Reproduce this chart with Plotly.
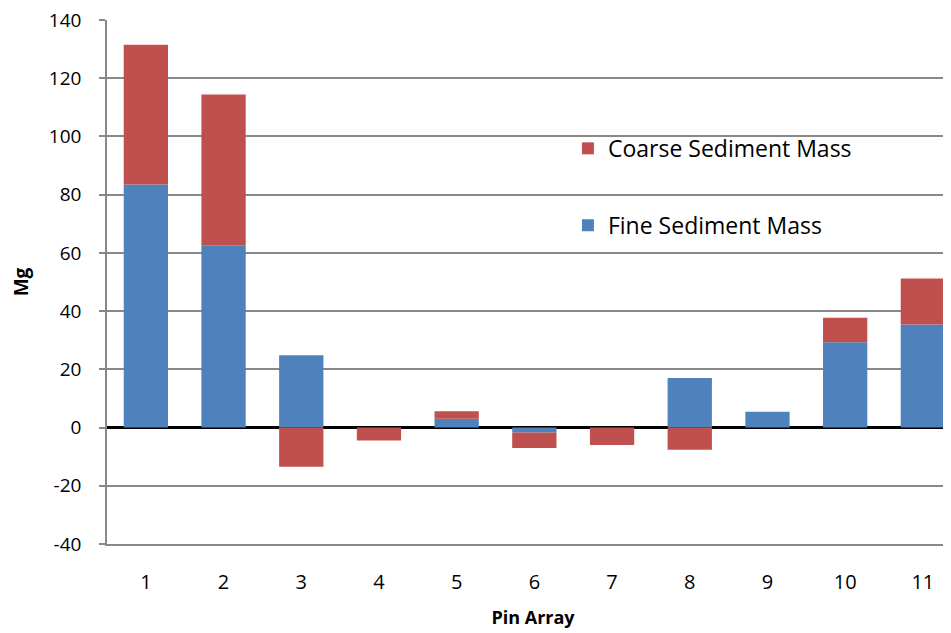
import plotly.graph_objects as go

pins = list(range(1, 12))
tick_labels = [str(p) for p in pins]
fine = [83.5, 62.6, 24.8, 0.0, 3.0, -1.7, 0.0, 17.0, 5.4, 29.3, 35.4]
coarse = [48.0, 51.8, -13.5, -4.5, 2.6, -5.3, -6.0, -7.6, 0.0, 8.4, 15.8]
y_ticks = [-40, -20, 0, 20, 40, 60, 80, 100, 120, 140]
y_tick_labels = [str(v) for v in y_ticks]

BLUE = "#4F81BD"
RED = "#C0504D"
GRID = "#888888"
FONT = "Open Sans"

fig = go.Figure()
fig.add_trace(go.Bar(x=pins, y=fine, name="Fine Sediment Mass",
                     marker=dict(color=BLUE, line=dict(width=0)),
                     legendgroup="fine", legendrank=2))
fig.add_trace(go.Bar(x=pins, y=coarse, name="Coarse Sediment Mass",
                     marker=dict(color=RED, line=dict(width=0)),
                     legendgroup="coarse", legendrank=1))

fig.update_layout(
    width=951, height=633,
    barmode="relative", bargap=0.43,
    plot_bgcolor="white", paper_bgcolor="white",
    margin=dict(l=99, r=0, t=12, b=97, autoexpand=False),
    font=dict(family=FONT, size=18, color="black"),
    legend=dict(x=0.541, y=0.796, xanchor="left", yanchor="top",
                traceorder="grouped", tracegroupgap=44,
                font=dict(family=FONT, size=23, color="black"),
                bgcolor="rgba(0,0,0,0)"),
    xaxis=dict(range=[0.5, 11.465], tickvals=pins, ticktext=tick_labels,
               automargin=False,
               showgrid=False, showline=True, linecolor=GRID, linewidth=1.5,
               ticks="", ticklabelstandoff=19, zeroline=False,
               title=dict(text="<b>Pin Array</b>", font=dict(size=18), standoff=18),
               tickfont=dict(size=20)),
    yaxis=dict(range=[-40.02, 140.02], tickvals=y_ticks, ticktext=y_tick_labels,
               ticklabeloverflow="allow", automargin=False,
               showgrid=True, gridcolor=GRID, gridwidth=1.5,
               showline=True, linecolor=GRID, linewidth=1.5,
               ticks="outside", ticklen=6, tickcolor=GRID, tickwidth=1.5,
               ticklabelstandoff=14,
               zeroline=True, zerolinecolor="black", zerolinewidth=2.5,
               title=dict(text="<b>Mg</b>", font=dict(size=19), standoff=17),
               tickfont=dict(size=19)),
)

fig.write_html("out.html")
